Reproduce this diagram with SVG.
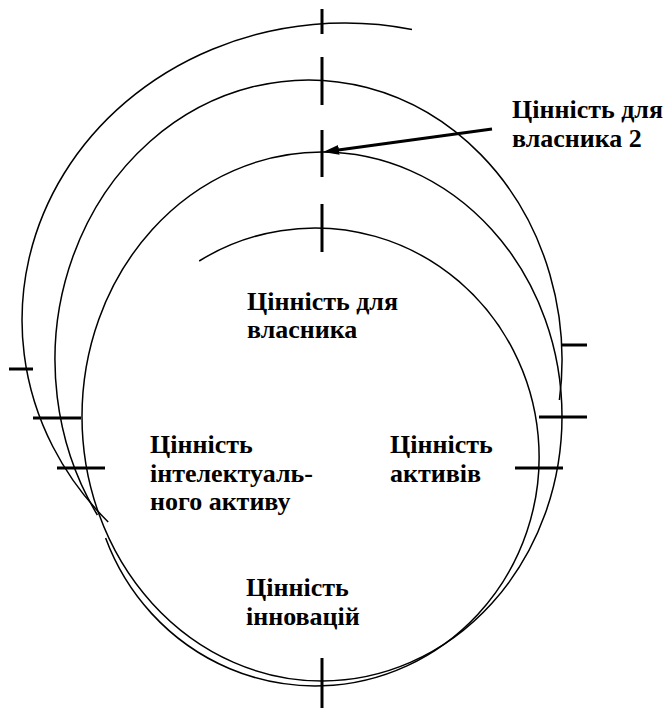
<svg xmlns="http://www.w3.org/2000/svg" width="666" height="708" viewBox="0 0 666 708">
<defs>
<style>
.ring{fill:none;stroke:#000;stroke-width:1.5}
.tick{stroke:#000;stroke-width:3;fill:none}
.lbl{font-family:"Liberation Serif","Times New Roman",serif;font-weight:bold;font-size:26px;fill:#000}
.arrow{stroke:#000;stroke-width:3;fill:none}
</style>
<marker id="ah" markerUnits="userSpaceOnUse" markerWidth="16" markerHeight="10" refX="8" refY="5" orient="auto">
<path d="M0,0 L16,5 L0,10 z" fill="#000"/>
</marker>
</defs>
<rect width="666" height="708" fill="#fff"/>
<g id="ring-outer-arc">
<path class="ring" d="M412,29.5 A323,297 0 0,0 108.2,522"/>
</g>
<g id="ring-owner2">
<path class="ring" d="M97.4,515 A253.5,280 0 1,1 559.4,400"/>
</g>
<g id="ring-main">
<ellipse class="ring" cx="322" cy="416.5" rx="240" ry="264.5"/>
</g>
<g id="ring-inner-arc">
<path class="ring" d="M199.2,261 A224,229 0 1,1 105.6,538"/>
</g>
<g id="ticks">
<line class="tick" x1="322" y1="9" x2="322" y2="34"/>
<line class="tick" x1="322" y1="57" x2="322" y2="105"/>
<line class="tick" x1="322" y1="130" x2="322" y2="177"/>
<line class="tick" x1="322" y1="204" x2="322" y2="252"/>
<line class="tick" x1="322" y1="658" x2="322" y2="708"/>
<line class="tick" x1="9" y1="369" x2="33" y2="369"/>
<line class="tick" x1="33" y1="418" x2="81" y2="418"/>
<line class="tick" x1="57" y1="468" x2="105" y2="468"/>
<line class="tick" x1="562" y1="345" x2="587" y2="345"/>
<line class="tick" x1="539" y1="417" x2="587" y2="417"/>
<line class="tick" x1="515" y1="468" x2="563" y2="468"/>
</g>
<g id="connectors">
<line class="arrow" x1="492" y1="129" x2="331" y2="151" marker-end="url(#ah)"/>
</g>
<g id="label-owner2">
<text class="lbl" x="512" y="118">Цінність для</text>
<text class="lbl" x="512" y="147">власника 2</text>
</g>
<g id="label-owner">
<text class="lbl" x="247" y="310">Цінність для</text>
<text class="lbl" x="247" y="338">власника</text>
</g>
<g id="label-intellectual">
<text class="lbl" x="150" y="453">Цінність</text>
<text class="lbl" x="150" y="482">інтелектуаль-</text>
<text class="lbl" x="150" y="510">ного активу</text>
</g>
<g id="label-assets">
<text class="lbl" x="390" y="453">Цінність</text>
<text class="lbl" x="390" y="482">активів</text>
</g>
<g id="label-innovation">
<text class="lbl" x="246" y="596">Цінність</text>
<text class="lbl" x="246" y="625">інновацій</text>
</g>
</svg>
